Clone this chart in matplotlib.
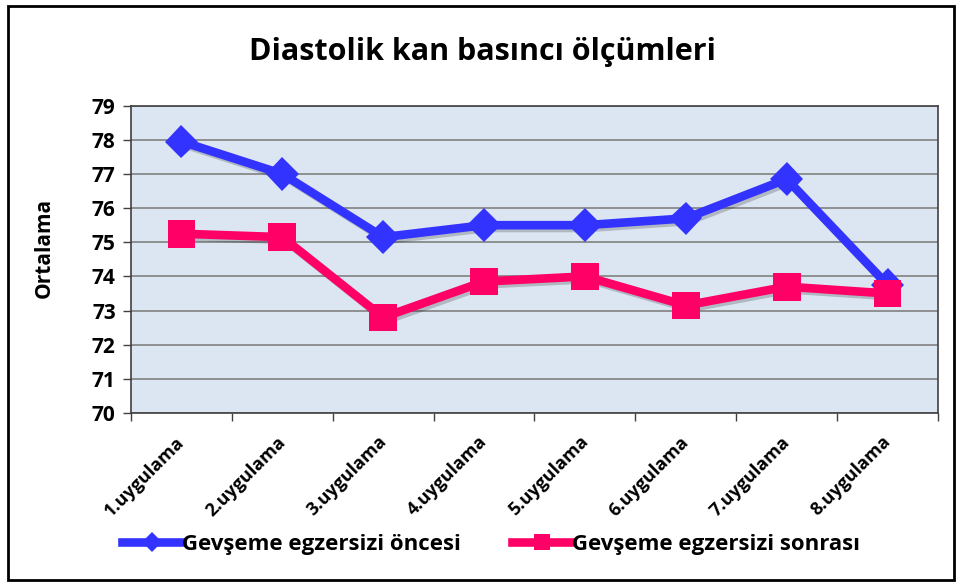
import matplotlib
matplotlib.use('Agg')
import matplotlib.pyplot as plt
import matplotlib.patheffects as pe
from matplotlib.patches import Rectangle
from matplotlib.transforms import ScaledTranslation

# veriler
kategoriler = ['1.uygulama', '2.uygulama', '3.uygulama', '4.uygulama',
               '5.uygulama', '6.uygulama', '7.uygulama', '8.uygulama']
oncesi = [77.95, 77.0, 75.15, 75.5, 75.5, 75.7, 76.85, 73.75]
sonrasi = [75.25, 75.15, 72.8, 73.85, 74.0, 73.15, 73.7, 73.5]
y_ticks = list(range(70, 80))

plt.rcParams['font.family'] = ['Open Sans', 'DejaVu Sans']
plt.rcParams['font.weight'] = 'bold'

fig = plt.figure(figsize=(9.62, 5.87), dpi=100)
ax = fig.add_axes([0.1362, 0.2964, 0.975 - 0.1362, 0.820 - 0.2964])
ax.set_facecolor('#DCE6F2')

x = [i + 0.5 for i in range(len(kategoriler))]
golge = [pe.SimpleLineShadow(offset=(2, -2), shadow_color='k', alpha=0.2), pe.Normal()]

ax.plot(x, oncesi, color='#3333FF', lw=6.2, marker='D', ms=17,
        markeredgewidth=0, label='Gevşeme egzersizi öncesi',
        path_effects=golge, zorder=3, clip_on=False)
ax.plot(x, sonrasi, color='#FF0066', lw=6.2, marker='s', ms=20,
        markeredgewidth=0, label='Gevşeme egzersizi sonrası',
        path_effects=golge, zorder=4, clip_on=False)

ax.set_xlim(0, len(kategoriler))
ax.set_ylim(70, 79)
ax.set_yticks(y_ticks)
ax.yaxis.grid(True, color='#808080', lw=1.2)
ax.set_axisbelow(True)

ax.set_xticks(range(len(kategoriler) + 1))
ax.set_xticklabels([])
ax.set_xticks(x, minor=True)
ax.set_xticklabels(kategoriler, minor=True, rotation=45, ha='right', va='top',
                   rotation_mode='anchor', fontsize=13, fontweight='bold')
ax.tick_params(axis='x', which='minor', length=0, pad=2)
ax.tick_params(axis='x', which='major', length=6, width=1, direction='out', color='#404040')
ax.tick_params(axis='y', length=6, width=1, color='#404040', labelsize=15, pad=5)
for lbl in ax.get_xticklabels(minor=True):
    lbl.set_transform(lbl.get_transform() + ScaledTranslation(-0.06, -0.17, fig.dpi_scale_trans))

for s in ax.spines.values():
    s.set_color('#404040')
    s.set_linewidth(1.2)

ax.set_ylabel('Ortalama', fontsize=15, fontweight='bold')
ax.yaxis.set_label_coords(-0.094, 0.536)
fig.text(0.502, 0.912, 'Diastolik kan basıncı ölçümleri', ha='center', va='center',
         fontsize=22, fontweight='bold')

leg = fig.legend(loc='center', bbox_to_anchor=(0.51, 0.072), ncol=2, frameon=False,
                 prop={'weight': 'bold', 'size': 16},
                 handlelength=2.7, columnspacing=2.3, handletextpad=0.0, markerscale=0.6)
for h in leg.legend_handles:
    h.set_path_effects([])

fig.patches.append(Rectangle((0.008, 0.012), 0.984, 0.978, transform=fig.transFigure,
                             fill=False, edgecolor='black', lw=2))

fig.savefig('out.png', dpi=100)
